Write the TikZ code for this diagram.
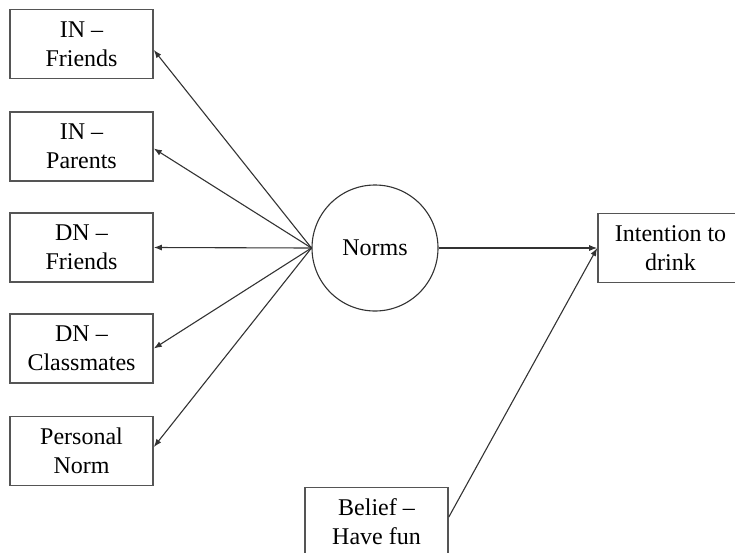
\documentclass[tikz,border=0pt]{standalone}
\usepackage{fontspec}
\setmainfont{Liberation Serif}
\usepackage{tikz}
\usetikzlibrary{arrows.meta,calc}
\definecolor{BoxGray}{HTML}{555555}
\definecolor{LineGray}{HTML}{333333}

\begin{document}
\begin{tikzpicture}[x=1pt,y=-1pt,
  box/.style={draw=BoxGray,line width=1.6pt,minimum width=143pt,minimum height=69pt,
    inner sep=0pt,align=center,font=\fontsize{24}{29}\selectfont},
  arr/.style={draw=LineGray,line width=1.1pt,-{Latex[length=8pt,width=6pt]}}]
   \useasboundingbox (0,0) rectangle (735,552);
   \foreach \y/\name/\txt in {44/IF/{IN --\\Friends},146.5/IP/{IN --\\Parents},
     247.5/DF/{DN --\\Friends},348.5/DC/{DN --\\Classmates},451/PN/{Personal\\Norm}} {
    \node[box] (\name) at (81.5,\y) {\txt};
   }
   \node[draw=LineGray,line width=1.1pt,circle,minimum size=126pt,inner sep=0pt,
     font=\fontsize{24}{29}\selectfont] (N) at (375,248) {Norms};
   \node[box,minimum width=145pt] (ID) at (670.5,248) {Intention to\\drink};
   \node[box] (BF) at (376.5,522) {Belief --\\Have fun};

   \foreach \name/\dy in {IF/-6,IP/-2,DF/0,DC/0,PN/4} {
    \draw[arr] (N.west) -- ([yshift=\dy]\name.east);
   }
   \draw[arr] (N.east) -- (ID.west);
   \draw[arr] ([yshift=5]BF.east) -- (ID.west);
  \end{tikzpicture}
\end{document}
